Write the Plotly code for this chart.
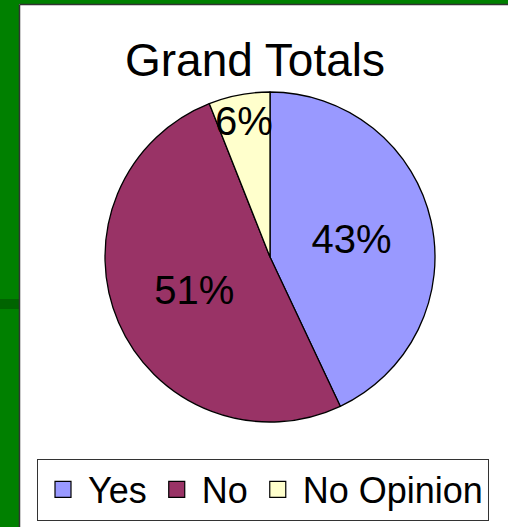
import plotly.graph_objects as go

labels = ["Yes", "No", "No Opinion"]
values = [43, 51, 6]
colors = ["#9999FF", "#993366", "#FFFFCC"]

W, H = 508, 527
FONT = "Liberation Sans, Arial, sans-serif"

def px(x):
    return x / W

def py(y):
    return 1 - y / H

fig = go.Figure()
fig.add_trace(go.Pie(
    labels=labels,
    values=values,
    sort=False,
    direction="clockwise",
    rotation=0,
    marker=dict(colors=colors, line=dict(color="black", width=1.3)),
    textinfo="percent",
    textposition="inside",
    insidetextorientation="horizontal",
    textfont=dict(family=FONT, size=40, color="black"),
    domain=dict(x=[px(105), px(435)], y=[py(422), py(92)]),
    hoverinfo="label+percent",
    showlegend=False,
))

# legend entries (same categories/colours as the pie)
for lab, col in zip(labels, colors):
    fig.add_trace(go.Scatter(
        x=[None], y=[None], mode="markers", name=lab,
        marker=dict(symbol="square", size=16, color=col, line=dict(color="black", width=1.2)),
        showlegend=True, hoverinfo="skip",
    ))

shapes = [
    dict(type="rect", xref="paper", yref="paper", x0=0, x1=px(19), y0=0, y1=1,
         fillcolor="#008000", line=dict(width=0), layer="below"),
    dict(type="rect", xref="paper", yref="paper", x0=0, x1=1, y0=py(4), y1=1,
         fillcolor="#008000", line=dict(width=0), layer="below"),
    dict(type="rect", xref="paper", yref="paper", x0=0, x1=px(19), y0=py(309), y1=py(299),
         fillcolor="#006400", line=dict(width=0), layer="below"),
    dict(type="line", xref="paper", yref="paper", x0=px(19.5), x1=px(19.5), y0=0, y1=py(4.5),
         line=dict(color="#333333", width=1.5)),
    dict(type="line", xref="paper", yref="paper", x0=px(19.5), x1=1, y0=py(4.5), y1=py(4.5),
         line=dict(color="#333333", width=1.5)),
]

fig.update_layout(
    width=W, height=H,
    margin=dict(l=0, r=0, t=0, b=0),
    paper_bgcolor="white",
    plot_bgcolor="rgba(0,0,0,0)",
    font=dict(family=FONT, color="black"),
    xaxis=dict(visible=False),
    yaxis=dict(visible=False),
    shapes=shapes,
    uniformtext=dict(minsize=40, mode="show"),
    title=dict(text="Grand Totals", x=px(255), xanchor="center", y=py(60), yanchor="middle",
               font=dict(family=FONT, size=46, color="black")),
    showlegend=True,
    legend=dict(orientation="h", x=px(263), xanchor="center", y=py(489.5), yanchor="middle",
                bordercolor="#333333", borderwidth=1, bgcolor="white",
                font=dict(family=FONT, size=36, color="black"),
                itemsizing="trace", itemwidth=40, tracegroupgap=0),
)

fig.write_html("out.html", post_script="document.body.style.margin='0';",
               config={"displayModeBar": False})
